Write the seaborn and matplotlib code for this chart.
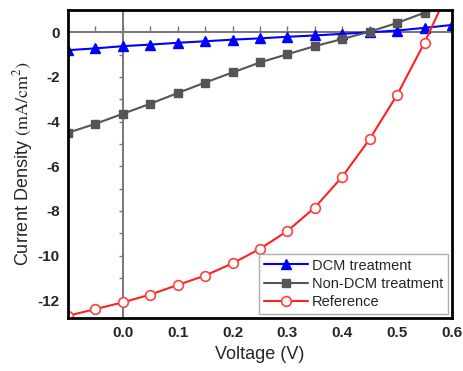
import pandas as pd
import numpy as np
import matplotlib.pyplot as plt
import seaborn as sns

# voltage sweep (V)
voltage = [-0.10, -0.05, 0.00, 0.05, 0.10, 0.15, 0.20, 0.25, 0.30, 0.35, 0.40, 0.45, 0.50, 0.55, 0.60]

# current density (mA/cm^2)
dcm = [-0.80, -0.72, -0.62, -0.55, -0.47, -0.40, -0.33, -0.27, -0.20, -0.14, -0.07, 0.00, 0.08, 0.20, 0.33]
non_dcm = [-4.50, -4.10, -3.65, -3.20, -2.72, -2.25, -1.80, -1.35, -0.98, -0.62, -0.30, 0.03, 0.42, 0.88, 1.40]
reference = [-12.70, -12.40, -12.10, -11.75, -11.32, -10.90, -10.35, -9.70, -8.90, -7.85, -6.47, -4.78, -2.80, -0.46, 2.20]

labels = ["DCM treatment", "Non-DCM treatment", "Reference"]
x_ticks = [0.0, 0.1, 0.2, 0.3, 0.4, 0.5, 0.6]
y_ticks = [0, -2, -4, -6, -8, -10, -12]

df = pd.DataFrame({"voltage": voltage * 3,
                   "current": dcm + non_dcm + reference,
                   "sample": np.repeat(labels, len(voltage))})

sns.set_style("white")
plt.rcParams['font.family'] = ['Liberation Sans', 'DejaVu Sans']
plt.rcParams['mathtext.fontset'] = 'stix'

fig = plt.figure(figsize=(4.64, 3.71), dpi=100)
pos = [68 / 464, 1 - 318 / 371, (452 - 68) / 464, (318 - 10) / 371]

# zero lines with their own small ticks (Origin style)
ax0 = fig.add_axes(pos)
ax0.set_xlim(-0.1, 0.6)
ax0.set_ylim(-12.8, 1.0)
for s in ["top", "right"]:
    ax0.spines[s].set_visible(False)
ax0.spines["left"].set_position(("data", 0))
ax0.spines["bottom"].set_position(("data", 0))
for s in ["left", "bottom"]:
    ax0.spines[s].set_color("#777777")
    ax0.spines[s].set_linewidth(1.4)
ax0.set_xticks(np.arange(-0.1, 0.61, 0.05))
ax0.set_yticks(np.arange(-12, 1, 1))
ax0.tick_params(axis="x", direction="in", length=4, width=1, color="#777777", labelbottom=False, bottom=True)
ax0.tick_params(axis="y", direction="out", length=3, width=1, color="#777777", labelleft=False, left=True)
ax0.set_zorder(0)

ax = fig.add_axes(pos)
ax.set_facecolor("none")
ax.set_zorder(1)

styles = {
    "DCM treatment": dict(color="#0000ff", marker="^", mfc="#0000ff", mec="#0000ff", ms=7),
    "Non-DCM treatment": dict(color="#555555", marker="s", mfc="#555555", mec="#555555", ms=6),
    "Reference": dict(color="#ff2020", marker="o", mfc="white", mec="#ff4040", ms=7, mew=1.2),
}
for lab in labels:
    st = styles[lab]
    sns.lineplot(data=df[df["sample"] == lab], x="voltage", y="current", ax=ax,
                 color=st["color"], marker=st["marker"], markersize=st["ms"],
                 markerfacecolor=st["mfc"], markeredgecolor=st["mec"],
                 markeredgewidth=st.get("mew", 1.0), linewidth=1.5, label=lab)

ax.set_xlim(-0.1, 0.6)
ax.set_ylim(-12.8, 1.0)
ax.set_xticks(x_ticks)
ax.set_yticks(y_ticks)
ax.set_xticklabels([f"{t:.1f}" for t in x_ticks], fontweight="bold", fontsize=11)
ax.set_yticklabels([str(t) for t in y_ticks], fontweight="bold", fontsize=11)
ax.tick_params(length=0, pad=6)
for s in ax.spines.values():
    s.set_visible(True)
    s.set_color("black")
    s.set_linewidth(2)

ax.set_xlabel("Voltage (V)", fontsize=13, labelpad=4)
ax.set_ylabel(r"Current Density $\mathrm{(mA/cm^2)}$", fontsize=13, labelpad=2)

leg = ax.legend(loc="lower right", fontsize=10.5, frameon=True, fancybox=False,
                handlelength=3, borderaxespad=0.3, labelspacing=0.3, borderpad=0.3,
                handletextpad=0.3)
leg.get_frame().set_edgecolor("#999999")
leg.get_frame().set_linewidth(1)

fig.savefig("out.png", dpi=100, facecolor="white")
